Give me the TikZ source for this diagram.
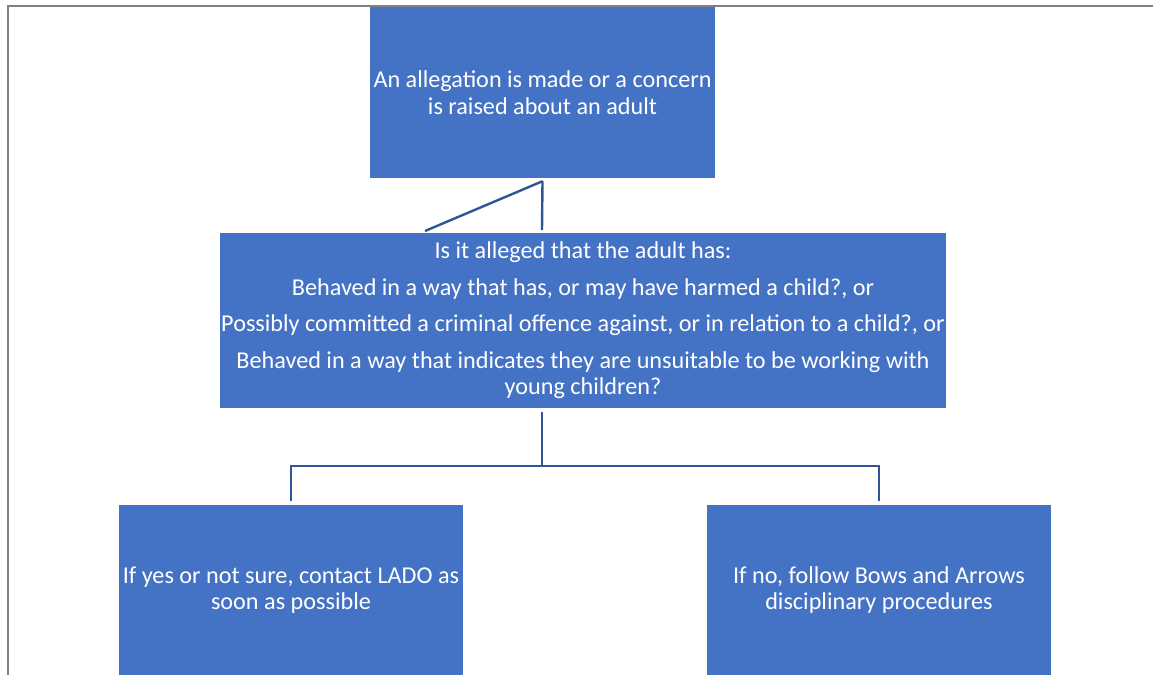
\documentclass[tikz,border=0pt]{standalone}
\usepackage{fontspec}
\setmainfont{Carlito}
\usetikzlibrary{positioning,calc}
\definecolor{BoxBlue}{HTML}{4472C4}
\definecolor{LinkBlue}{HTML}{2F5597}
\definecolor{FrameGray}{HTML}{808080}
\newcommand{\boxfont}{\fontsize{24.2}{26.5}\selectfont}

\begin{document}
\begin{tikzpicture}[
    x=1pt, y=-1pt,
    stage/.style={
      draw=none,
      fill=BoxBlue,
      text=white,
      align=center,
      inner sep=0pt,
      font=\boxfont
    },
    link/.style={
      draw=LinkBlue,
      line width=2.4pt
    }
  ]
    \useasboundingbox (0,0) rectangle (1153,675);
    \draw[FrameGray, line width=2pt] (8,675) -- (8,6) -- (1153,6);

    \node[stage, minimum width=345pt, minimum height=171pt] (concern) at (542.5,92.5)
      {An allegation is made or a concern\\is raised about an adult};
    \node[stage, minimum width=726pt, minimum height=175pt] (question) at (583,320.5)
      {Is it alleged that the adult has:\\[10pt]
       Behaved in a way that has, or may have harmed a child?, or\\[10pt]
       Possibly committed a criminal offence against, or in relation to a child?, or\\[10pt]
       Behaved in a way that indicates they are unsuitable to be working with\\
       young children?};
    \node[stage, minimum width=344pt, minimum height=170pt] (lado) at (291,590)
      {If yes or not sure, contact LADO as\\soon as possible};
    \node[stage, minimum width=344pt, minimum height=170pt] (discipline) at (879,590)
      {If no, follow Bows and Arrows\\disciplinary procedures};

    \coordinate (split) at (542,466);
    \draw[link] ($(concern.south)+(0,3)$) -- (542,230);
    \draw[link] ($(concern.south)+(0,3)$) -- (425,231);
    \draw[link] (542,412) -- (split);
    \draw[link] ($(lado.north)+(0,-4)$) |- (split) -| ($(discipline.north)+(0,-4)$);
  \end{tikzpicture}
\end{document}
